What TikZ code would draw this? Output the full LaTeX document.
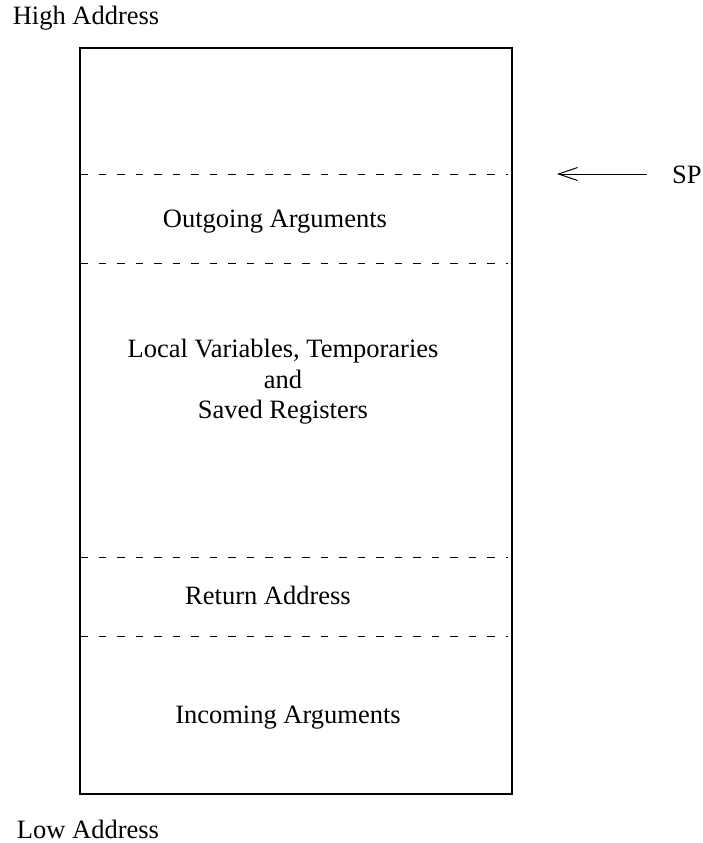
\documentclass[tikz,border=0pt]{standalone}
\usepackage{fontspec}
\setmainfont{Liberation Serif}
\usetikzlibrary{arrows.meta}
\begin{document}
\begin{tikzpicture}[x=1pt,y=-1pt,
  lbl/.style={inner sep=0pt,font=\fontsize{26.5}{30.5}\selectfont,align=center},
  sep/.style={line width=1pt,dash pattern=on 7.5pt off 11pt},
  frame/.style={line width=1.2pt}]
\useasboundingbox (0,0) rectangle (702,843);
\coordinate (tl) at (80,48);
\coordinate (br) at (512,794);
\draw[frame] (tl) rectangle (br);
\foreach \y in {174,263,557,636} {
  \draw[sep] (80,\y) -- (508,\y);
}
\node[lbl] (high) at (86,18) {High Address};
\node[lbl] (low) at (88,829) {Low Address};
\node[lbl] (out) at (275,222) {Outgoing Arguments};
\node[lbl] (loc) at (283,382) {Local Variables, Temporaries\\and\\Saved Registers};
\node[lbl] (ret) at (268,595) {Return Address};
\node[lbl] (inc) at (288,718) {Incoming Arguments};
\node[lbl,anchor=west] (sp) at (672,175) {SP};
\coordinate (spa) at (647,174);
\coordinate (spb) at (557,174);
\draw[line width=1pt,-{Straight Barb[length=19pt,width=13pt,line width=1pt]}] (spa) -- (spb);
\end{tikzpicture}
\end{document}
